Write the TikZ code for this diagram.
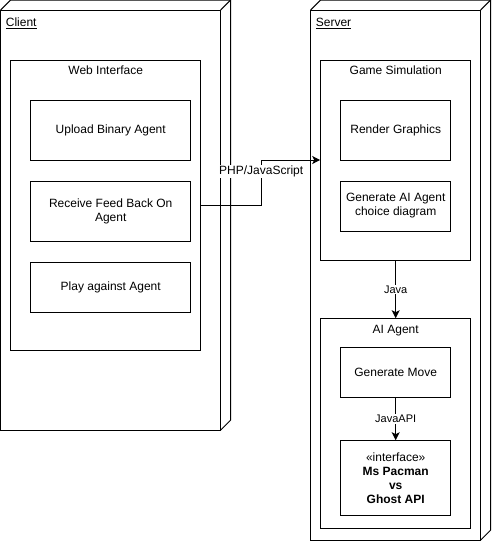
\documentclass[tikz,border=0pt]{standalone}
\usepackage{fontspec}
\setmainfont{Liberation Sans}
\usetikzlibrary{arrows.meta,positioning,calc}

\begin{document}
\begin{tikzpicture}[x=1pt, y=-1pt,
  font=\fontsize{12}{14}\selectfont,
  node3d/.style={draw, line width=1pt, outer sep=0pt},
  frame/.style={draw, line width=1pt},
  box/.style={draw, line width=1pt, minimum width=160pt, minimum height=60pt, align=center},
  title/.style={inner sep=2pt},
  arr/.style={-{Stealth[length=8pt, width=8pt, inset=2pt]}, line width=1pt},
  lbl/.style={fill=white, inner sep=1pt, font=\fontsize{11}{13}\selectfont}
]
  \useasboundingbox (0,0) rectangle (491,541);

  % client
  \node[node3d, minimum width=220pt, minimum height=420pt] (client) at (110.7,220) {};
  \draw[line width=1pt] (client.north west) -- ++(10,-10) -| ($(client.south east)+(10,-10)$) -- (client.south east);
  \draw[line width=1pt] (client.north east) -- ++(10,-10);
  \node[title, anchor=north west] (clientlbl) at ($(client.north west)+(3,6)$) {\underline{Client}};

  \node[frame, minimum width=190pt, minimum height=290pt] (web) at (105.7,205) {};
  \node[title, below=4.5pt of web.north] (webt) {Web Interface};
  \node[box, below=40pt of web.north, xshift=5pt] (upload) {Upload Binary Agent};
  \node[box, below=20pt of upload] (feedback) {Receive Feed Back On\\Agent};
  \node[box, minimum height=50pt, below=20pt of feedback] (play) {Play against Agent};

  % server
  \node[node3d, minimum width=170pt, minimum height=530pt] (server) at (395.7,275) {};
  \draw[line width=1pt] (server.north west) -- ++(10,-10) -| ($(server.south east)+(10,-10)$) -- (server.south east);
  \draw[line width=1pt] (server.north east) -- ++(10,-10);
  \node[title, anchor=north west] (serverlbl) at ($(server.north west)+(3,6)$) {\underline{Server}};

  \node[frame, minimum width=150pt, minimum height=200pt] (game) at (395.7,160) {};
  \node[title, below=4.5pt of game.north] (gamet) {Game Simulation};
  \node[box, minimum width=110pt, below=40pt of game.north] (render) {Render Graphics};
  \node[box, minimum width=110pt, minimum height=50pt, below=20pt of render] (genai) {Generate AI Agent\\choice diagram};

  \node[frame, minimum width=150pt, minimum height=210pt] (agent) at (395.7,423.7) {};
  \node[title, below=4.5pt of agent.north] (agentt) {AI Agent};
  \node[box, minimum width=110pt, minimum height=50pt, below=29pt of agent.north] (move) {Generate Move};
  \node[box, minimum width=110pt, minimum height=75pt, below=42pt of move] (iface) {«interface»\\ \textbf{Ms Pacman}\\ \textbf{vs}\\ \textbf{Ghost API}};

  % connectors
  \draw[arr] (web.east) -- ++(60,0) |- node[lbl, font=\fontsize{12}{14}\selectfont, pos=0.37] {PHP/JavaScript} (game.west);
  \draw[arr] (game) -- node[lbl] {Java} (agent);
  \draw[arr] (move) -- node[lbl] {JavaAPI} (iface);
\end{tikzpicture}
\end{document}
